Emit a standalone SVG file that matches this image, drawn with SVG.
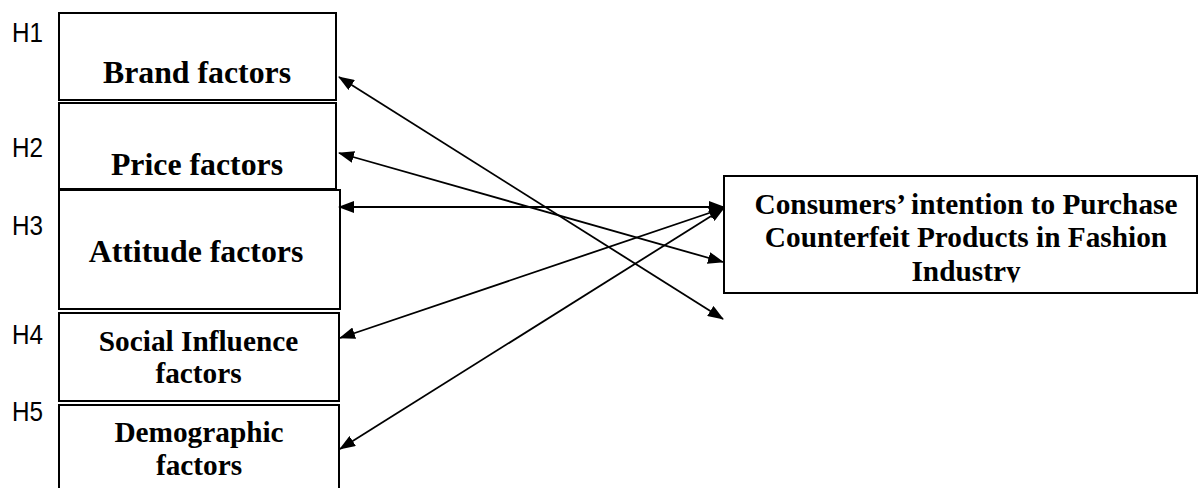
<svg xmlns="http://www.w3.org/2000/svg" width="1198" height="488" viewBox="0 0 1198 488">
<style>
.box{fill:#fff;stroke:#000;stroke-width:2}
.t{font-family:"Liberation Serif","Times New Roman",serif;font-weight:bold;fill:#000;text-anchor:middle}
.h{font-family:"Liberation Sans",Arial,sans-serif;font-size:27px;fill:#000}
.c{stroke:#000;stroke-width:1.8;fill:none;marker-start:url(#ah);marker-end:url(#ah)}
</style>
<defs>
<marker id="ah" viewBox="0 0 16 12" markerWidth="16" markerHeight="12" refX="15" refY="6" orient="auto-start-reverse" markerUnits="userSpaceOnUse">
<path d="M0,0 L16,6 L0,12 z" fill="#000"/>
</marker>
<clipPath id="clipR"><rect x="724" y="176" width="474" height="106.5"/></clipPath>
</defs>
<rect width="1198" height="488" fill="#fff"/>
<g id="labels">
<text class="h" x="12" y="42" textLength="31" lengthAdjust="spacingAndGlyphs">H1</text>
<text class="h" x="12" y="157" textLength="31" lengthAdjust="spacingAndGlyphs">H2</text>
<text class="h" x="12" y="235" textLength="31" lengthAdjust="spacingAndGlyphs">H3</text>
<text class="h" x="12" y="344" textLength="31" lengthAdjust="spacingAndGlyphs">H4</text>
<text class="h" x="12" y="421" textLength="31" lengthAdjust="spacingAndGlyphs">H5</text>
</g>
<g id="brand">
<rect class="box" x="59" y="13" width="277" height="87"/>
<text class="t" x="197" y="83" font-size="31.8">Brand factors</text>
</g>
<g id="price">
<rect class="box" x="59" y="103" width="277" height="86"/>
<text class="t" x="197" y="175" font-size="31.8">Price factors</text>
</g>
<g id="attitude">
<rect class="box" x="59" y="190" width="281" height="119"/>
<text class="t" x="196" y="262" font-size="31.8">Attitude factors</text>
</g>
<g id="social">
<rect class="box" x="59" y="313" width="280" height="88"/>
<text class="t" x="198.5" y="351" font-size="29.3">Social Influence</text>
<text class="t" x="198.5" y="383" font-size="29.3">factors</text>
</g>
<g id="demographic">
<rect class="box" x="59" y="405" width="280" height="100"/>
<text class="t" x="199" y="442" font-size="29.3">Demographic</text>
<text class="t" x="199" y="475" font-size="29.3">factors</text>
</g>
<g id="intention">
<rect class="box" x="724" y="176" width="473" height="117"/>
<g clip-path="url(#clipR)">
<text class="t" x="966" y="214" font-size="29.3">Consumers’ intention to Purchase</text>
<text class="t" x="966" y="247" font-size="29.3">Counterfeit Products in Fashion</text>
<text class="t" x="966" y="281" font-size="29.3">Industry</text>
</g>
</g>
<g id="connectors">
<line class="c" x1="339" y1="77" x2="723" y2="319"/>
<line class="c" x1="339" y1="153" x2="723" y2="262"/>
<line class="c" x1="339" y1="207" x2="724" y2="207"/>
<line class="c" x1="340" y1="338" x2="724" y2="208"/>
<line class="c" x1="340" y1="449" x2="724" y2="208"/>
</g>
</svg>
